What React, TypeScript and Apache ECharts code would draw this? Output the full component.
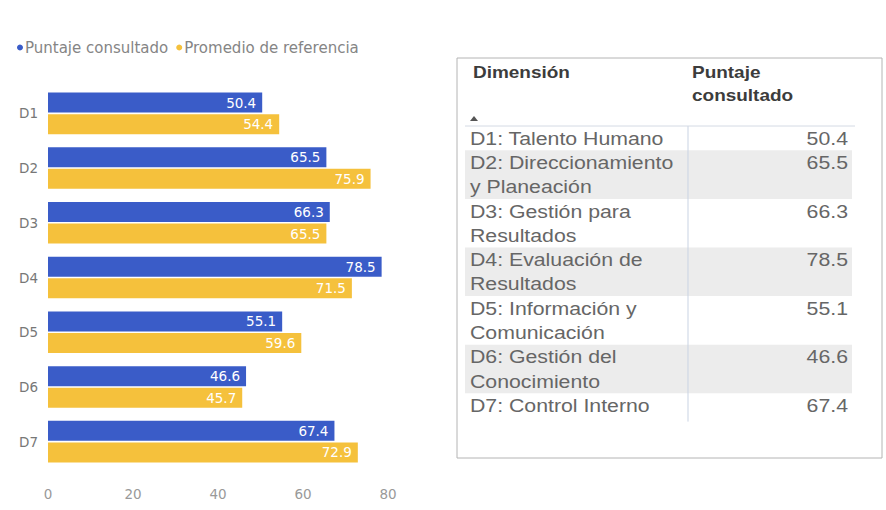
import React, { useEffect, useRef } from "react";
import * as echarts from "echarts";

const categories = ["D1", "D2", "D3", "D4", "D5", "D6", "D7"];
const puntaje = [50.4, 65.5, 66.3, 78.5, 55.1, 46.6, 67.4];
const promedio = [54.4, 75.9, 65.5, 71.5, 59.6, 45.7, 72.9];
const xTicks = [0, 20, 40, 60, 80];
const seriesNames = ["Puntaje consultado", "Promedio de referencia"];
const tableDims = [
  "D1: Talento Humano",
  "D2: Direccionamiento\ny Planeación",
  "D3: Gestión para\nResultados",
  "D4: Evaluación de\nResultados",
  "D5: Información y\nComunicación",
  "D6: Gestión del\nConocimiento",
  "D7: Control Interno",
];
const tableHeaders = ["Dimensión", "Puntaje\nconsultado"];

const BLUE = "#3a5cc8";
const YELLOW = "#f5c13c";
const FONT = "DejaVu Sans";
const TFONT = "Liberation Sans";
const SX = 1.15;

export default function App() {
  const ref = useRef<HTMLDivElement>(null);
  useEffect(() => {
    if (!ref.current) return;
    const chart = echarts.init(ref.current, undefined, { renderer: "svg" });

    const g: any[] = [];
    const boxX = 457, boxY = 58, boxW = 425, boxH = 400;
    g.push({
      type: "rect",
      shape: { x: boxX, y: boxY, width: boxW, height: boxH },
      style: { fill: "#fff", stroke: "#b4b4b4", lineWidth: 1 },
      z: 0,
    });
    const col1 = 470, col2 = 692, valRight = 848;
    const rowStart = 126, lineH = 24.3;
    let y = rowStart;
    tableDims.forEach((d, i) => {
      const lines = d.split("\n");
      const h = lines.length * lineH;
      if (i % 2 === 1) {
        g.push({
          type: "rect",
          shape: { x: 465, y, width: 387, height: h },
          style: { fill: "#ececec" },
          z: 1,
        });
      }
      lines.forEach((ln, j) => {
        g.push({
          type: "text",
          x: col1,
          y: y + lineH * (j + 0.5),
          scaleX: SX,
          style: {
            text: ln,
            fill: "#666",
            fontFamily: TFONT,
            fontSize: 18.5,
            textAlign: "left",
            textVerticalAlign: "middle",
          },
          z: 3,
        });
      });
      g.push({
        type: "text",
        x: valRight,
        y: y + lineH * 0.5,
        scaleX: SX,
        style: {
          text: puntaje[i].toFixed(1),
          fill: "#666",
          fontFamily: TFONT,
          fontSize: 18.5,
          textAlign: "right",
          textVerticalAlign: "middle",
        },
        z: 3,
      });
      y += h;
    });
    const tableBottom = y + 4;
    g.push({
      type: "line",
      shape: { x1: 688, y1: rowStart, x2: 688, y2: tableBottom },
      style: { stroke: "#c9d3e3", lineWidth: 1 },
      z: 4,
    });
    g.push({
      type: "line",
      shape: { x1: 465, y1: rowStart, x2: 855, y2: rowStart },
      style: { stroke: "#d4dae4", lineWidth: 1 },
      z: 4,
    });
    const hdrX = [473, col2];
    tableHeaders.forEach((hd, k) => {
      hd.split("\n").forEach((ln, j) => {
        g.push({
          type: "text",
          x: hdrX[k],
          y: 72 + j * 23,
          scaleX: SX,
          style: {
            text: ln,
            fill: "#3c3c3c",
            fontFamily: TFONT,
            fontSize: 16.5,
            fontWeight: "bold",
            textAlign: "left",
            textVerticalAlign: "middle",
          },
          z: 3,
        });
      });
    });
    g.push({
      type: "polygon",
      shape: { points: [[470, 121], [478, 121], [474, 116]] },
      style: { fill: "#555" },
      z: 3,
    });

    chart.setOption({
      animation: false,
      backgroundColor: "#fff",
      textStyle: { fontFamily: FONT },
      legend: {
        left: 12,
        top: 35,
        icon: "circle",
        itemWidth: 6,
        itemHeight: 6,
        itemGap: 8,
        textStyle: { color: "#858585", fontSize: 15, fontFamily: FONT, padding: [0, 0, 0, -3] },
        data: seriesNames,
      },
      grid: { left: 48, right: 498, top: 86, bottom: 41, containLabel: false },
      xAxis: {
        type: "value",
        min: xTicks[0],
        max: xTicks[xTicks.length - 1],
        interval: xTicks[1] - xTicks[0],
        axisLine: { show: false },
        axisTick: { show: false },
        splitLine: { show: false },
        axisLabel: { color: "#999", fontSize: 13.5, margin: 18, fontFamily: FONT },
      },
      yAxis: {
        type: "category",
        data: categories,
        inverse: true,
        axisLine: { show: false },
        axisTick: { show: false },
        axisLabel: { color: "#777", fontSize: 13.5, margin: 10, fontFamily: FONT },
      },
      series: [
        {
          name: seriesNames[0],
          type: "bar",
          data: puntaje,
          barWidth: 20,
          barGap: "8%",
          itemStyle: { color: BLUE },
          label: {
            show: true,
            position: "insideRight",
            color: "#fff",
            fontSize: 13.5,
            fontFamily: FONT,
            distance: 6,
          },
        },
        {
          name: seriesNames[1],
          type: "bar",
          data: promedio,
          barWidth: 20,
          barGap: "8%",
          itemStyle: { color: YELLOW },
          label: {
            show: true,
            position: "insideRight",
            color: "#fff",
            fontSize: 13.5,
            fontFamily: FONT,
            distance: 6,
          },
        },
      ],
      graphic: g,
    });
    return () => chart.dispose();
  }, []);
  return (
    <div
      ref={ref}
      style={{ position: "fixed", left: 0, top: 0, width: 886, height: 510 }}
    />
  );
}
